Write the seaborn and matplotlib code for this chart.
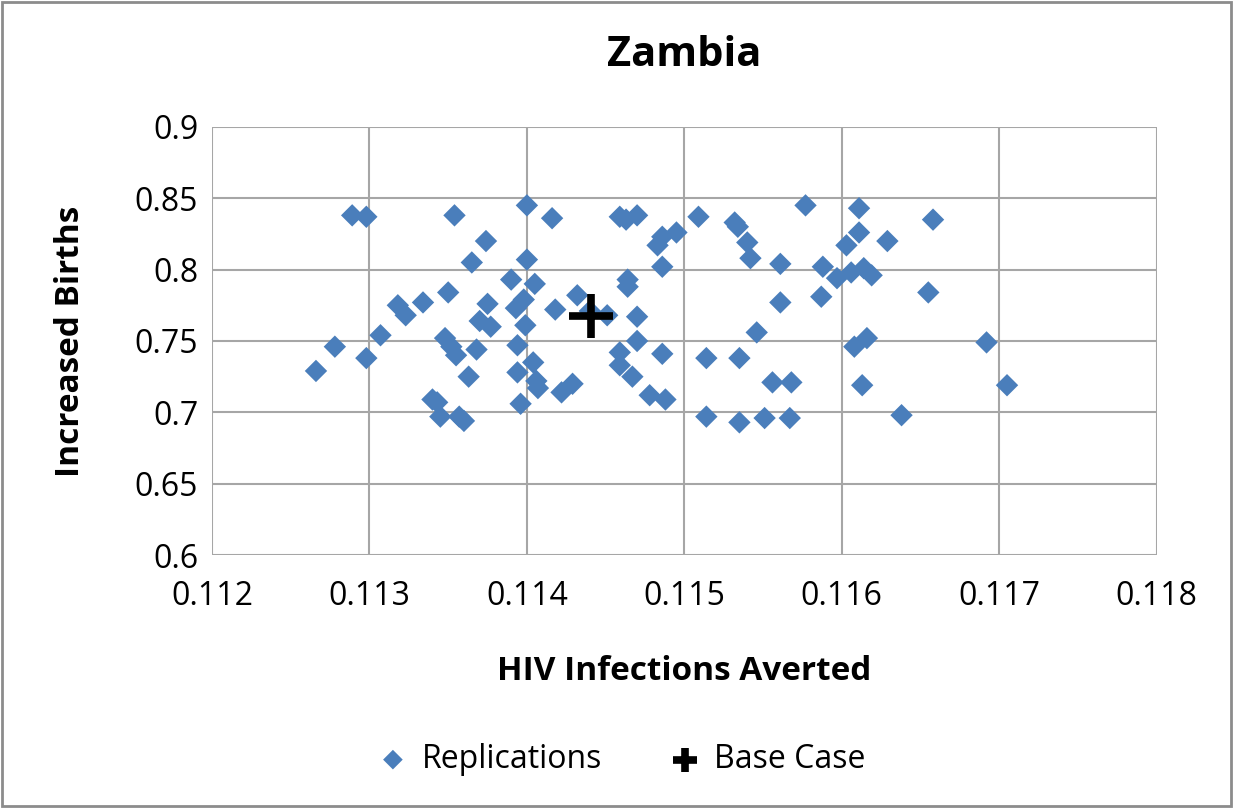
import pandas as pd
import matplotlib.pyplot as plt
import seaborn as sns

# Replication results
hiv_averted = [
    0.11266, 0.11278, 0.11289, 0.11298, 0.11298, 0.11307, 0.11318, 0.11323,
    0.11334, 0.11340, 0.11343, 0.11345, 0.11354, 0.11350, 0.11348, 0.11352,
    0.11355, 0.11357, 0.11360, 0.11363, 0.11365, 0.11368, 0.11370, 0.11374,
    0.11375, 0.11377, 0.11390, 0.11393, 0.11394, 0.11394, 0.11396, 0.11400,
    0.11400, 0.11398, 0.11399, 0.11405, 0.11404, 0.11406, 0.11407, 0.11416,
    0.11418, 0.11422, 0.11429, 0.11432, 0.11451, 0.11464, 0.11464, 0.11470,
    0.11470, 0.11459, 0.11459, 0.11467, 0.11486, 0.11478, 0.11488, 0.11459,
    0.11463, 0.11470, 0.11483, 0.11486, 0.11495, 0.11486, 0.11509, 0.11532,
    0.11534, 0.11540, 0.11542, 0.11546, 0.11514, 0.11535, 0.11514, 0.11535,
    0.11551, 0.11556, 0.11568, 0.11567, 0.11577, 0.11611, 0.11611, 0.11603,
    0.11629, 0.11658, 0.11561, 0.11588, 0.11597, 0.11606, 0.11614, 0.11619,
    0.11655, 0.11587, 0.11561, 0.11608, 0.11616, 0.11692, 0.11613, 0.11705,
    0.11638, 0.11440,
]
births = [
    0.729, 0.746, 0.838, 0.837, 0.738, 0.754, 0.775, 0.768,
    0.777, 0.709, 0.707, 0.697, 0.838, 0.784, 0.752, 0.746,
    0.740, 0.697, 0.694, 0.725, 0.805, 0.744, 0.764, 0.820,
    0.776, 0.760, 0.793, 0.773, 0.747, 0.728, 0.706, 0.845,
    0.807, 0.779, 0.761, 0.790, 0.735, 0.722, 0.717, 0.836,
    0.772, 0.714, 0.720, 0.782, 0.768, 0.793, 0.788, 0.767,
    0.750, 0.742, 0.733, 0.725, 0.741, 0.712, 0.709, 0.837,
    0.835, 0.838, 0.817, 0.823, 0.826, 0.802, 0.837, 0.833,
    0.830, 0.819, 0.808, 0.756, 0.738, 0.738, 0.697, 0.693,
    0.696, 0.721, 0.721, 0.696, 0.845, 0.843, 0.826, 0.817,
    0.820, 0.835, 0.804, 0.802, 0.794, 0.798, 0.801, 0.796,
    0.784, 0.781, 0.777, 0.746, 0.752, 0.749, 0.719, 0.719,
    0.698, 0.771,
]

base_x = [0.11441]
base_y = [0.7676]

x_ticks = [0.112, 0.113, 0.114, 0.115, 0.116, 0.117, 0.118]
y_ticks = [0.6, 0.65, 0.7, 0.75, 0.8, 0.85, 0.9]

reps = pd.DataFrame({'HIV Infections Averted': hiv_averted, 'Increased Births': births})
base = pd.DataFrame({'HIV Infections Averted': base_x, 'Increased Births': base_y})

sns.set_style('white')
plt.rcParams['font.family'] = ['Open Sans', 'DejaVu Sans']
plt.rcParams['text.color'] = 'black'
plt.rcParams['axes.labelcolor'] = 'black'
plt.rcParams['xtick.color'] = 'black'
plt.rcParams['ytick.color'] = 'black'

fig = plt.figure(figsize=(12.33, 8.08), dpi=100)
ax = fig.add_axes([0.172, 0.313, 0.766, 0.530])

sns.scatterplot(data=reps, x='HIV Infections Averted', y='Increased Births', marker='D',
                s=130, color='#4a7ebb', edgecolor='none', label='Replications', ax=ax, zorder=3)
sns.scatterplot(data=base, x='HIV Infections Averted', y='Increased Births', marker='+',
                s=1000, color='black', linewidth=5.5, label='Base Case', ax=ax, zorder=4)

ax.set_xlim(0.112, 0.118)
ax.set_ylim(0.6, 0.9)
ax.set_xticks(x_ticks)
ax.set_yticks(y_ticks)
ax.set_xticklabels([f'{v:g}' for v in x_ticks])
ax.set_yticklabels([f'{v:g}' for v in y_ticks])
ax.grid(True, color='#a6a6a6', linewidth=1.5)
ax.set_axisbelow(True)
for side in ['top', 'right', 'left', 'bottom']:
    ax.spines[side].set_visible(False)
ax.tick_params(axis='both', labelsize=23, length=0)
ax.tick_params(axis='x', pad=18)
ax.tick_params(axis='y', pad=10)

ax.set_title('Zambia', fontsize=30, fontweight='bold', pad=44)
ax.set_xlabel('HIV Infections Averted', fontsize=24, fontweight='bold', labelpad=30)
ax.set_ylabel('Increased Births', fontsize=24, fontweight='bold', labelpad=34)

ax.legend_.remove()
handles, labels = ax.get_legend_handles_labels()
leg = fig.legend(handles, labels, loc='center', bbox_to_anchor=(0.505, 0.06), ncol=2,
                 frameon=False, fontsize=23, handlelength=0.8,
                 handletextpad=0.5, columnspacing=2.2)
# smaller legend keys, like the reference
leg.legend_handles[0].set_sizes([100])
leg.legend_handles[1].set_sizes([300])

# outer chart border
fig.patches.append(plt.Rectangle((0.002, 0.002), 0.996, 0.996, transform=fig.transFigure,
                                 fill=False, edgecolor='#8c8c8c', linewidth=2))

fig.savefig('out.png', dpi=100)
